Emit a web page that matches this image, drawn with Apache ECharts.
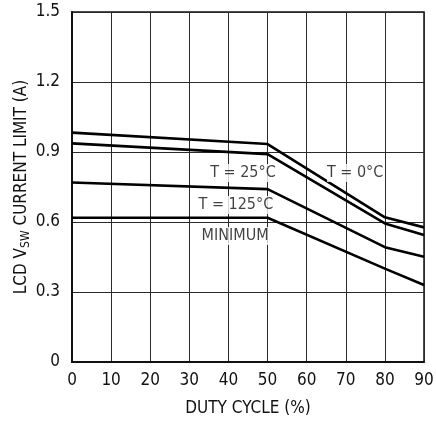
<!DOCTYPE html>
<html>
<head>
<meta charset="utf-8">
<script src="https://cdn.jsdelivr.net/npm/echarts@6/dist/echarts.min.js"></script>
<style>
  html, body { margin: 0; padding: 0; background: #fff; }
  #chart { width: 436px; height: 424px; }
</style>
</head>
<body>
<div id="chart"></div>
<script>
// Duty cycle breakpoints (%)
const dutyCycle = [0, 50, 80, 90];

// Switch current limit (A) per curve
const limitT0 = [0.983, 0.934, 0.620, 0.577];
const limitT25 = [0.937, 0.891, 0.594, 0.544];
const limitT125 = [0.769, 0.741, 0.492, 0.451];
const limitMin = [0.618, 0.618, 0.400, 0.330];

// Curve annotations: [duty %, current A, text]
const curveLabels = [
  [43.7, 0.81, 'T = 25°C'],
  [72.4, 0.81, 'T = 0°C'],
  [41.9, 0.673, 'T = 125°C'],
  [41.7, 0.54, 'MINIMUM']
];

const FONT = "'Liberation Sans Narrow', 'DejaVu Sans Condensed', 'Arial Narrow', sans-serif";

function pairs(ys) {
  return dutyCycle.map((x, i) => [x, ys[i]]);
}

function curve(name, ys) {
  return {
    name: name,
    type: 'line',
    data: pairs(ys),
    symbol: 'none',
    lineStyle: { color: '#000', width: 2.6 },
    z: 3,
    silent: true
  };
}

const chart = echarts.init(document.getElementById('chart'), null, { renderer: 'canvas' });

chart.setOption({
  animation: false,
  backgroundColor: '#fff',
  grid: {
    left: 72, right: 12, top: 12, bottom: 62,
    outerBoundsMode: 'none',
    containLabel: false,
    show: true, borderColor: '#111', borderWidth: 1.5,
    backgroundColor: 'transparent'
  },
  xAxis: {
    type: 'value',
    min: 0, max: 90, interval: 10,
    name: 'DUTY CYCLE (%)',
    nameLocation: 'middle',
    nameGap: 38,
    nameTextStyle: { fontFamily: FONT, fontSize: 17, color: '#111' },
    axisLine: { show: true, lineStyle: { color: '#111', width: 2 } },
    axisTick: { show: false },
    axisLabel: { fontFamily: FONT, fontSize: 17, color: '#111', margin: 10 },
    splitLine: { show: true, lineStyle: { color: '#2a2a2a', width: 1 } }
  },
  yAxis: {
    type: 'value',
    min: 0, max: 1.5, interval: 0.3,
    name: '{a|LCD V}{s|SW}{a| CURRENT LIMIT (A)}',
    nameLocation: 'middle',
    nameRotate: 90,
    nameGap: 40,
    nameMoveOverlap: false,
    nameTextStyle: {
      fontFamily: FONT, color: '#111',
      rich: {
        a: { fontFamily: FONT, fontSize: 17, color: '#111', lineHeight: 20 },
        s: { fontFamily: FONT, fontSize: 12, color: '#111', lineHeight: 14, verticalAlign: 'bottom' }
      }
    },
    axisLine: { show: true, lineStyle: { color: '#111', width: 2 } },
    axisTick: { show: false },
    axisLabel: {
      fontFamily: FONT, fontSize: 17, color: '#111', margin: 12,
      formatter: v => (v === 0 ? '0' : v.toFixed(1))
    },
    splitLine: { show: true, lineStyle: { color: '#2a2a2a', width: 1 } }
  },
  series: [
    curve('T = 0°C', limitT0),
    curve('T = 25°C', limitT25),
    curve('T = 125°C', limitT125),
    curve('MINIMUM', limitMin),
    {
      name: 'labels',
      type: 'scatter',
      data: curveLabels,
      symbolSize: 0,
      silent: true,
      z: 4,
      label: {
        show: true,
        position: 'inside',
        formatter: p => p.data[2],
        fontFamily: FONT,
        fontSize: 16,
        color: '#111',
        backgroundColor: '#fff',
        padding: [1, 0]
      }
    }
  ]
});
</script>
</body>
</html>
